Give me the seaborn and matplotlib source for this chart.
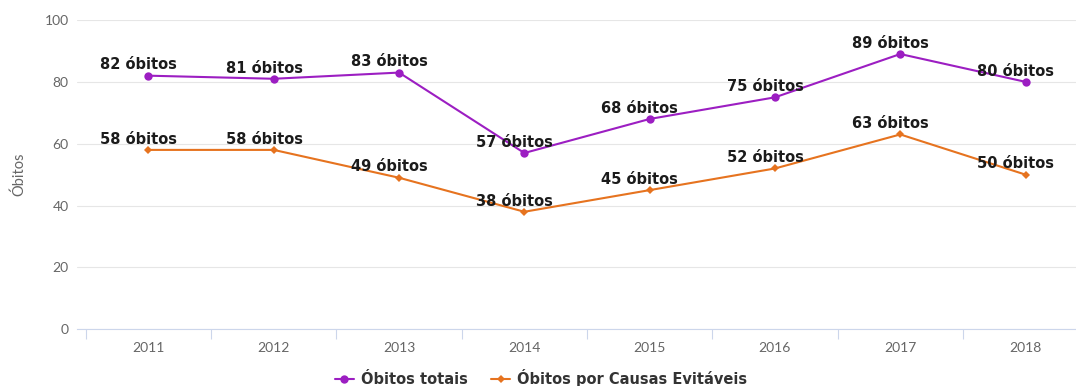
import matplotlib
matplotlib.use("Agg")
import matplotlib.pyplot as plt
import seaborn as sns
import pandas as pd

# Dados: óbitos por ano
years = ["2011", "2012", "2013", "2014", "2015", "2016", "2017", "2018"]
obitos_totais = [82, 81, 83, 57, 68, 75, 89, 80]
obitos_evitaveis = [58, 58, 49, 38, 45, 52, 63, 50]
series_names = ["Óbitos totais", "Óbitos por Causas Evitáveis"]
y_ticks = [0, 20, 40, 60, 80, 100]

colors = {series_names[0]: "#9C1EC2", series_names[1]: "#E6731F"}
markers = {series_names[0]: "o", series_names[1]: "D"}
sizes = {series_names[0]: 6.0, series_names[1]: 4.0}

df = pd.DataFrame({
    "pos": list(range(len(years))) * 2,
    "ano": years * 2,
    "valor": obitos_totais + obitos_evitaveis,
    "serie": [series_names[0]] * len(years) + [series_names[1]] * len(years),
})

sns.set_theme(style="white")
plt.rcParams["font.family"] = ["Lato", "DejaVu Sans"]
bold_font = ["DejaVu Sans"]

W, H = 1076, 386
fig = plt.figure(figsize=(W / 100, H / 100), dpi=100)
left_px, right_px, bottom_px, top_px = 77, 1097, 329.3, 20
ax = fig.add_axes([left_px / W, (H - bottom_px) / H,
                   (right_px - left_px) / W, (bottom_px - top_px) / H])

for name in series_names:
    sub = df[df["serie"] == name]
    sns.lineplot(data=sub, x="pos", y="valor", ax=ax, color=colors[name],
                 marker=markers[name], markersize=sizes[name],
                 markeredgewidth=0, linewidth=1.5, label=name, legend=False)

# Rótulos de dados
for name, vals in zip(series_names, [obitos_totais, obitos_evitaveis]):
    for i, v in enumerate(vals):
        ax.annotate(f"{v} óbitos", xy=(i, v), xytext=(-7, 4.5),
                    textcoords="offset points", ha="center", va="baseline",
                    fontsize=10.5, fontweight="bold", family=bold_font,
                    color="#1b1b1b", zorder=5)

ax.set_xlim(-0.57, len(years) - 1 + 0.57)
ax.set_ylim(0, 100)
ax.set_yticks(y_ticks)
ax.set_xticks(range(len(years)))
ax.set_xticklabels(years)
ax.set_xticks([i - 0.5 for i in range(len(years) + 1)], minor=True)

ax.grid(axis="y", color="#e6e6e6", linewidth=0.8)
ax.grid(axis="x", visible=False)
for side in ["top", "right", "left"]:
    ax.spines[side].set_visible(False)
ax.spines["bottom"].set_color("#ccd6eb")
ax.spines["bottom"].set_linewidth(0.8)

ax.tick_params(axis="x", which="major", bottom=True, length=0, pad=9,
               labelsize=10, labelcolor="#666666")
ax.tick_params(axis="x", which="minor", bottom=True, length=7, width=0.8,
               color="#ccd6eb", direction="out")
ax.tick_params(axis="y", left=False, length=0, pad=6, labelsize=10,
               labelcolor="#666666")

ax.set_xlabel("")
ax.set_ylabel("Óbitos", fontsize=10.5, color="#666666", labelpad=13)

handles, labels = ax.get_legend_handles_labels()
fig.legend(handles, labels, loc="center",
           bbox_to_anchor=(541 / W, 1 - 378 / H), ncol=2, frameon=False,
           handlelength=1.3, handletextpad=0.5, columnspacing=1.6,
           prop={"size": 10.5, "weight": "bold", "family": bold_font},
           labelcolor="#333333")

fig.savefig("out.png", dpi=100)
